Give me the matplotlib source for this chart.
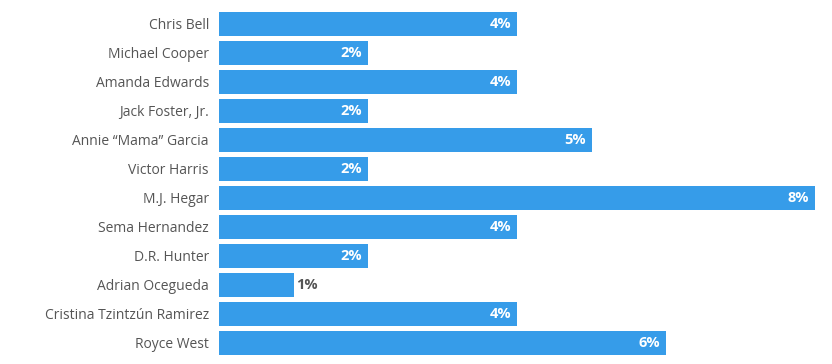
import matplotlib.pyplot as plt

names = ["Chris Bell", "Michael Cooper", "Amanda Edwards", "Jack Foster, Jr.",
         "Annie \u201cMama\u201d Garcia", "Victor Harris", "M.J. Hegar", "Sema Hernandez",
         "D.R. Hunter", "Adrian Ocegueda", "Cristina Tzintz\u00fan Ramirez", "Royce West"]
values = [4, 2, 4, 2, 5, 2, 8, 4, 2, 1, 4, 6]

bar_color = "#369ce9"
text_color = "#555555"

plt.rcParams["font.family"] = ["Open Sans", "DejaVu Sans"]

fig = plt.figure(figsize=(8.32, 3.64), dpi=100)
ax = fig.add_axes([219 / 832, 1 - 357.3 / 364, (815 - 219) / 832, (357.3 - 9.4) / 364])

pos = list(range(len(names)))
ax.barh(pos, values, height=0.82, color=bar_color)
ax.set_xlim(0, 8)
ax.set_ylim(len(names) - 0.5, -0.5)

ax.set_yticks(pos)
ax.set_yticklabels(names, fontsize=10, color=text_color)
ax.tick_params(axis="y", length=0, pad=7.2)
ax.set_xticks([])
for s in ax.spines.values():
    s.set_visible(False)

for i, v in enumerate(values):
    label = f"{v}%"
    if v >= 2:
        ax.annotate(label, (v, i), xytext=(-4, 0), textcoords="offset points",
                    ha="right", va="center", color="white", fontsize=10.5, fontweight="bold")
    else:
        ax.annotate(label, (v, i), xytext=(2, 0), textcoords="offset points",
                    ha="left", va="center", color=text_color, fontsize=10.5, fontweight="bold")

fig.savefig("out.png", dpi=100)
